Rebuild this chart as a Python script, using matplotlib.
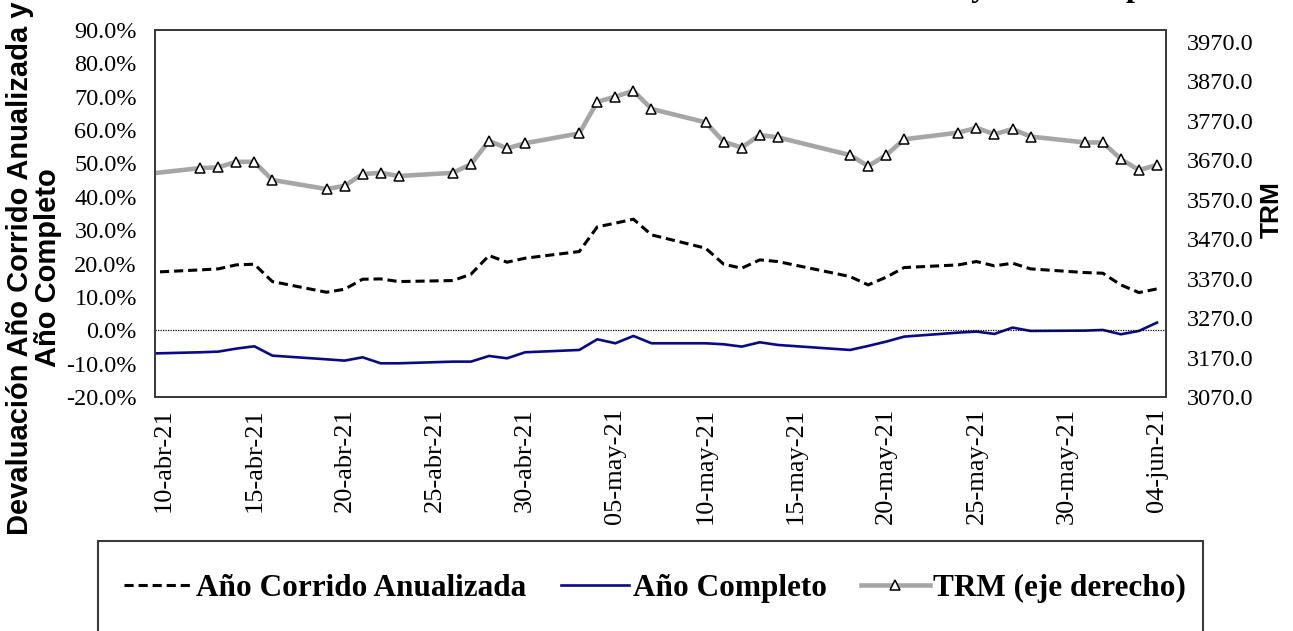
import datetime as dt
import matplotlib
matplotlib.use("Agg")
import matplotlib.pyplot as plt
import matplotlib.dates as mdates
from matplotlib.patches import Rectangle
from matplotlib.ticker import FuncFormatter, FixedLocator

plt.rcParams['axes.unicode_minus'] = False

# daily series (business days, 17-may holiday excluded)
fechas = ["2021-04-09", "2021-04-12", "2021-04-13", "2021-04-14", "2021-04-15", "2021-04-16",
          "2021-04-19", "2021-04-20", "2021-04-21", "2021-04-22", "2021-04-23",
          "2021-04-26", "2021-04-27", "2021-04-28", "2021-04-29", "2021-04-30",
          "2021-05-03", "2021-05-04", "2021-05-05", "2021-05-06", "2021-05-07",
          "2021-05-10", "2021-05-11", "2021-05-12", "2021-05-13", "2021-05-14",
          "2021-05-18", "2021-05-19", "2021-05-20", "2021-05-21",
          "2021-05-24", "2021-05-25", "2021-05-26", "2021-05-27", "2021-05-28",
          "2021-05-31", "2021-06-01", "2021-06-02", "2021-06-03", "2021-06-04"]

ano_corrido = [17.3, 18.1, 18.4, 19.6, 19.8, 14.6,
               11.4, 12.3, 15.3, 15.4, 14.6,
               14.9, 16.8, 22.4, 20.4, 21.6,
               23.6, 31.0, 32.1, 33.3, 28.6,
               24.6, 19.8, 18.6, 21.1, 20.6,
               16.1, 13.6, 15.9, 18.8,
               19.6, 20.6, 19.3, 20.1, 18.4,
               17.3, 17.1, 13.6, 11.3, 12.4]

ano_completo = [-7.0, -6.6, -6.4, -5.5, -4.8, -7.6,
                -8.7, -9.1, -8.1, -9.9, -9.9,
                -9.4, -9.4, -7.7, -8.4, -6.6,
                -5.9, -2.7, -3.9, -1.7, -3.9,
                -3.9, -4.2, -4.9, -3.6, -4.4,
                -5.9, -4.7, -3.4, -1.9,
                -0.7, -0.4, -1.1, 0.8, -0.2,
                -0.1, 0.1, -1.2, -0.2, 2.3]

trm = [3635, 3650, 3652, 3666, 3666, 3620,
       3597, 3605, 3635, 3638, 3630,
       3638, 3660, 3719, 3700, 3713,
       3738, 3818, 3831, 3846, 3800,
       3766, 3717, 3702, 3734, 3728,
       3683, 3655, 3683, 3723,
       3740, 3752, 3736, 3749, 3730,
       3715, 3715, 3673, 3645, 3658]

tick_fechas = ["2021-04-10", "2021-04-15", "2021-04-20", "2021-04-25", "2021-04-30",
               "2021-05-05", "2021-05-10", "2021-05-15", "2021-05-20", "2021-05-25",
               "2021-05-30", "2021-06-04"]
tick_labels = ["10-abr-21", "15-abr-21", "20-abr-21", "25-abr-21", "30-abr-21",
               "05-may-21", "10-may-21", "15-may-21", "20-may-21", "25-may-21",
               "30-may-21", "04-jun-21"]

x = [dt.datetime.strptime(f, "%Y-%m-%d") for f in fechas]
xt = [dt.datetime.strptime(f, "%Y-%m-%d") for f in tick_fechas]

serif = "Liberation Serif"
sans = "Liberation Sans"
frame_col = "#3a3a3a"

fig = plt.figure(figsize=(12.93, 6.31), dpi=100)
ax = fig.add_axes([155 / 1293, 1 - 397 / 631, 1011 / 1293, 367 / 631])
ax2 = ax.twinx()

l1, = ax.plot(x, ano_corrido, color="black", lw=2.2, dashes=(3, 1.6))
l2, = ax.plot(x, ano_completo, color="#0a0a86", lw=1.9)
ax.axhline(0, color="black", lw=0.9, ls=(0, (1, 1)))
l3, = ax2.plot(x, trm, color="#a6a6a6", lw=3.3, marker="^", ms=7.5,
               mfc="white", mec="black", mew=1.1, markevery=list(range(1, len(x))))

xmin = dt.datetime(2021, 4, 10) - dt.timedelta(hours=12)
xmax = dt.datetime(2021, 6, 4) + dt.timedelta(hours=12)
ax.set_xlim(xmin, xmax)
ax.set_ylim(-20, 90)
ax2.set_ylim(3070, 4000)

ax.set_yticks(range(-20, 91, 10))
ax.yaxis.set_major_formatter(FuncFormatter(lambda v, p: f"{v:.1f}%"))
ax2.yaxis.set_major_locator(FixedLocator(list(range(3070, 3971, 100))))
ax2.yaxis.set_major_formatter(FuncFormatter(lambda v, p: f"{v:.1f}"))

ax.set_xticks(mdates.date2num(xt))
ax.set_xticklabels(tick_labels, rotation=90, family=serif, fontsize=19)

for t in ax.get_yticklabels():
    t.set_family(serif)
    t.set_fontsize(17.5)
for t in ax2.get_yticklabels():
    t.set_family(serif)
    t.set_fontsize(17.5)

ax.tick_params(axis="x", length=0, pad=8)
ax.tick_params(axis="y", length=0, pad=13)
ax2.tick_params(axis="y", length=0, pad=15)

for a in (ax, ax2):
    for s in a.spines.values():
        s.set_color(frame_col)
        s.set_linewidth(1.3)

fig.text(34 / 1293, 1 - 268 / 631, "Devaluación Año Corrido Anualizada y\nAño Completo",
         rotation=90, ha="center", va="center", family=sans, fontweight="bold",
         fontsize=21, linespacing=1.0)
fig.text(1272 / 1293, 1 - 210 / 631, "TRM", rotation=90, ha="center", va="center",
         family=sans, fontweight="bold", fontsize=19)

# title sits above the canvas, only its descenders remain
fig.text(1187 / 1293, 1 + 4 / 631, "Devaluación y TRM del peso", ha="right",
         va="baseline", family=serif, fontweight="bold", fontsize=23)

fig.patches.append(Rectangle((98 / 1293, -0.05), 1105 / 1293, 0.05 + 1 - 541 / 631,
                             transform=fig.transFigure, fill=False,
                             edgecolor=frame_col, lw=1.5))
fig.legend([l1, l2, l3], ["Año Corrido Anualizada", "Año Completo", "TRM (eje derecho)"],
           loc="center", bbox_to_anchor=(655 / 1293, 1 - 588 / 631), ncol=3,
           frameon=False, handlelength=2.2, handletextpad=0.1, columnspacing=1.1,
           prop={"family": serif, "weight": "bold", "size": 22.5})

fig.savefig("out.png", dpi=100)
